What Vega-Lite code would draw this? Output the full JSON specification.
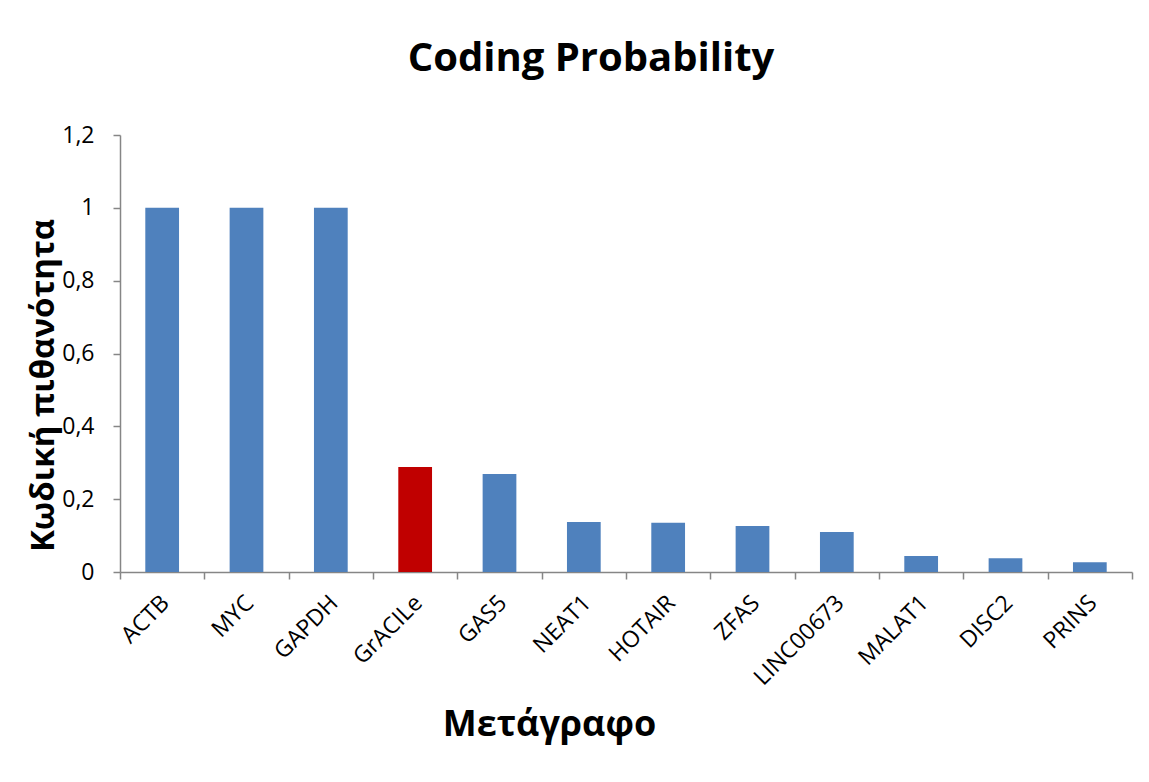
{
  "$schema": "https://vega.github.io/schema/vega-lite/v6.json",
  "autosize": {"type": "none"},
  "padding": {"left": 120, "top": 135, "right": 17, "bottom": 210},
  "width": 1012,
  "height": 437,
  "background": "white",
  "config": {
    "view": {"stroke": null},
    "font": "Open Sans"
  },
  "title": {
    "text": "Coding Probability",
    "font": "Open Sans",
    "fontSize": 40,
    "fontWeight": "bold",
    "color": "black",
    "anchor": "middle",
    "dx": -35,
    "offset": 45
  },
  "data": {
    "values": [
      {"gene": "ACTB", "prob": 1.0},
      {"gene": "MYC", "prob": 1.0},
      {"gene": "GAPDH", "prob": 1.0},
      {"gene": "GrACILe", "prob": 0.288},
      {"gene": "GAS5", "prob": 0.269},
      {"gene": "NEAT1", "prob": 0.137},
      {"gene": "HOTAIR", "prob": 0.135},
      {"gene": "ZFAS", "prob": 0.126},
      {"gene": "LINC00673", "prob": 0.11},
      {"gene": "MALAT1", "prob": 0.044},
      {"gene": "DISC2", "prob": 0.038},
      {"gene": "PRINS", "prob": 0.027}
    ]
  },
  "mark": {"type": "bar", "width": {"band": 0.4}},
  "encoding": {
    "x": {
      "field": "gene",
      "type": "nominal",
      "sort": null,
      "scale": {"paddingInner": 0, "paddingOuter": 0},
      "axis": {
        "title": "Μετάγραφο",
        "titleFont": "Open Sans",
        "titleFontSize": 36,
        "titleFontWeight": "bold",
        "titleColor": "black",
        "titleBaseline": "alphabetic",
        "titleX": 429,
        "titleY": 163,
        "labelAngle": -45,
        "labelAlign": "right",
        "labelBaseline": "middle",
        "labelFontSize": 23,
        "labelColor": "black",
        "labelPadding": 20,
        "labelOffset": 3,
        "tickBand": "extent",
        "tickSize": 7,
        "tickColor": "#868686",
        "tickWidth": 1.5,
        "domainColor": "#868686",
        "domainWidth": 1.5
      }
    },
    "y": {
      "field": "prob",
      "type": "quantitative",
      "scale": {"domain": [0, 1.2], "nice": false},
      "axis": {
        "title": "Κωδική  πιθανότητα",
        "titleFont": "Open Sans",
        "titleFontSize": 33,
        "titleFontWeight": "bold",
        "titleColor": "black",
        "titleBaseline": "alphabetic",
        "titleAngle": -90,
        "titleX": -67,
        "titleY": 250,
        "values": [0, 0.2, 0.4, 0.6, 0.8, 1, 1.2],
        "labelExpr": "replace(format(datum.value, '~g'), '.', ',')",
        "labelFontSize": 23,
        "labelColor": "black",
        "labelPadding": 19,
        "grid": false,
        "tickSize": 7,
        "tickColor": "#868686",
        "tickWidth": 1.5,
        "domainColor": "#868686",
        "domainWidth": 1.5
      }
    },
    "color": {
      "condition": {"test": "datum.gene === 'GrACILe'", "value": "#C00000"},
      "value": "#4F81BD"
    }
  }
}
